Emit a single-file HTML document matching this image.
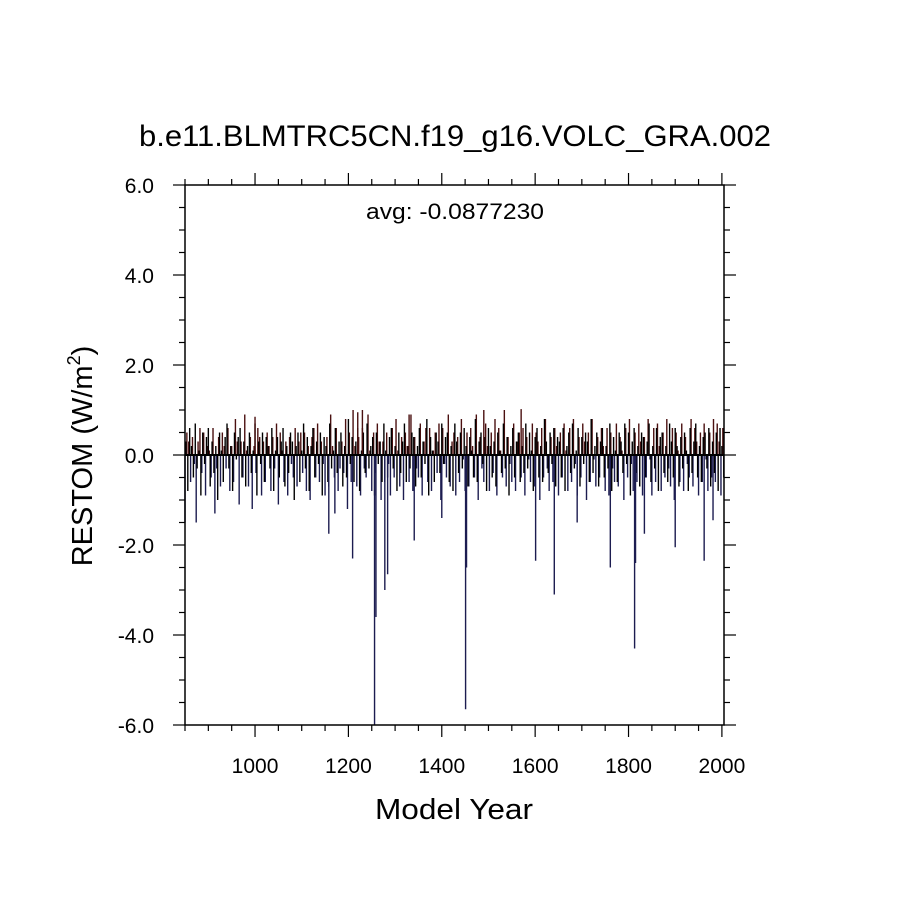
<!DOCTYPE html>
<html><head><meta charset="utf-8"><style>
body{margin:0;background:#fff;}
svg text{font-family:"Liberation Sans",Arial,sans-serif;}
</style></head><body>
<svg id="chart" width="910" height="910" viewBox="0 0 910 910">
<rect width="910" height="910" fill="#fff"/>
<text x="455" y="146" font-size="30" text-anchor="middle" textLength="632" lengthAdjust="spacingAndGlyphs">b.e11.BLMTRC5CN.f19_g16.VOLC_GRA.002</text>
<text x="455" y="219" font-size="22" text-anchor="middle" textLength="178" lengthAdjust="spacingAndGlyphs">avg: -0.0877230</text>
<g id="bars"></g>
<g id="axes"></g>
<text x="454" y="819" font-size="29" text-anchor="middle" textLength="158" lengthAdjust="spacingAndGlyphs">Model Year</text>
<text transform="translate(92,456) rotate(-90)" font-size="29" text-anchor="middle">RESTOM (W/m<tspan font-size="18" dy="-12">2</tspan><tspan dy="12">)</tspan></text>
</svg>
<script>
const startYear = 850;
const valuesA = [
-1.5,0.5,0.3,-0.6,0.4,-0.2,-1.5,0.3,0.6,-0.4,0.5,-0.9,0.2,0.1,-0.5,0.6,-1.3,-0.3,0.4,-0.7,
0.5,0.2,-0.3,0.6,-0.8,0.2,-0.6,0.8,0.3,-1.1,0.3,-0.5,0.9,0.1,-0.7,0.4,-1.2,0.2,-0.4,0.6,
0.4,-0.9,0.3,-0.6,0.5,0.2,-0.8,0.4,-0.3,0.7,-1.1,0.5,0.1,-0.6,0.3,-0.9,0.4,-0.2,-0.5,0.6,
-0.7,0.3,0.5,-0.4,0.5,-0.8,0.2,-1.0,0.4,0.6,-0.5,0.7,-0.6,0.3,-0.2,-0.9,0.4,-0.7,0.9,0.2,
-0.5,0.6,-0.8,-0.3,0.3,-0.4,0.8,-1.2,0.5,-0.6,1.0,0.2,-0.7,0.4,-0.9,0.6,-0.3,-0.5,0.9,0.1,
-0.8,0.5,-0.4,0.7,0.3,-1.0,0.3,-0.6,0.5,-0.2,-0.9,0.6,-0.5,0.8,0.1,-0.7,0.4,-1.0,0.5,0.2,
-0.6,0.9,-0.8,0.4,-0.3,-0.5,0.7,-0.9,0.3,0.6,-0.6,0.6,-0.8,0.1,0.5,-0.4,0.7,-1.0,0.6,-0.2,
-0.5,0.9,-0.7,0.3,0.5,-0.9,0.4,-0.6,0.8,-0.1,-0.8,0.5,-0.7,0.6,0.2,-0.5,0.9,-1.0,0.4,-0.3,
-0.6,0.7,0.2,-0.8,0.5,-0.4,0.8,-0.9,0.6,0.1,-0.5,1.0,-0.7,0.4,-0.2,-0.6,0.7,-0.8,0.3,0.5,
-0.5,0.6,-0.9,0.4,-0.1,-0.6,0.7,-0.7,0.5,0.3,-1.0,0.6,-0.5,0.8,-0.3,-0.8,0.4,-0.6,0.6,0.2,
-0.9,0.5,-0.5,0.7,0.1,-0.8,0.6,-0.6,0.8,-0.2,-0.9,0.4,-0.5,0.7,0.3,-1.0,0.5,-0.6,0.8,-0.1,
-0.7,0.4,-0.5,0.6,0.2,-0.8,0.6,-0.9,0.5,-0.3,-0.6,0.7,-0.7,0.4,0.1,-1.0,0.6,-0.5,0.8,-0.2,
-0.8,0.5,-0.6,0.7,0.3,-0.9,0.4,-0.5,0.8,-0.1,-0.9,0.6,-0.6,0.7,0.2,-0.8,0.5,-0.5,0.8,-0.3,
-0.7,0.6,-1.0,0.5,0.1,-0.6,0.7,-0.8,0.4,-0.2,-0.5,0.8,-0.7,0.6,0.3,-0.9,0.5,-0.6,0.7,-0.1,
-0.8,0.5,-0.5,0.8,-0.6,0.7,0.3,-0.9,0.6,-0.4,0.8
];
const valuesB = [
0.3,-0.8,0.6,0.2,-0.5,0.7,-0.3,0.1,-0.9,0.5,-0.2,0.4,0.6,-0.7,0.3,-0.4,0.2,-1.0,0.5,0.1,
-0.6,0.4,0.7,-0.3,0.2,-0.8,0.5,-0.1,0.4,0.6,-0.5,0.3,-0.7,0.2,0.5,-0.4,0.1,0.7,-0.9,0.3,
-0.2,0.5,-0.6,0.4,0.2,-0.3,0.6,-0.8,0.1,0.4,-0.5,0.3,0.6,-0.7,0.2,-0.4,0.5,0.3,-1.0,0.2,
0.5,-0.6,0.1,0.7,-0.3,0.4,-0.8,0.2,0.6,-0.5,0.3,-0.2,0.5,-0.9,0.4,0.2,-0.6,0.7,-0.3,0.1,
0.6,-0.4,0.3,0.5,-0.7,0.2,-0.5,0.8,-0.2,0.4,-0.6,0.3,0.6,-0.8,0.1,0.5,-0.4,0.7,-0.3,0.2,
0.4,-0.9,0.5,-0.2,0.3,-0.6,0.7,0.1,-0.5,0.4,0.6,-0.3,0.2,-0.8,0.5,-0.4,0.3,0.7,-0.6,0.2,
-0.3,0.5,0.4,-0.7,0.2,0.6,-0.5,0.3,-0.2,0.8,-0.9,0.4,0.1,-0.6,0.5,0.3,-0.4,0.7,-0.2,0.4,
0.5,-0.6,0.2,-0.8,0.7,0.3,-0.4,0.5,-0.3,0.6,0.2,-0.7,0.4,0.1,-0.5,0.8,-0.6,0.3,0.5,-0.2,
0.4,-0.8,0.6,0.2,-0.5,0.3,-0.7,0.5,0.1,-0.4,0.7,-0.3,0.4,-0.9,0.2,0.6,-0.5,0.3,0.5,-0.6,
0.2,-0.4,0.7,-0.3,0.5,0.1,-0.8,0.4,0.6,-0.5,0.2,-0.6,0.8,0.3,-0.4,0.5,-0.2,0.6,-0.7,0.4,
0.3,-0.5,0.6,-0.8,0.2,0.5,-0.4,0.7,-0.3,0.1,0.6,-0.7,0.4,-0.2,0.5,0.3,-0.6,0.8,-0.4,0.2,
0.5,-0.7,0.3,0.6,-0.5,0.2,-0.3,0.7,-0.8,0.4,0.1,-0.6,0.5,0.3,-0.4,0.7,-0.2,0.5,-0.9,0.3,
0.6,-0.4,0.2,-0.7,0.5,0.4,-0.5,0.3,0.7,-0.6,0.2,-0.3,0.6,-0.8,0.4,0.5,-0.4,0.2,-0.6,0.7,
0.3,-0.5,0.6,0.2,-0.7,0.4,-0.3,0.5,0.1,-0.8,0.6,-0.4,0.3,0.7,-0.5,0.2,-0.6,0.4,0.5,-0.3,
0.6,-0.7,0.3,-0.4,0.5,-0.8,0.6,0.2,-0.5,0.4
];
const eventYears = [1158,1171,1209,1256,1259,1278,1284,1341,1400,1451,1453,1601,1641,1690,1761,1813,1815,1834,1900,1962,1981,1220,1230,1570,1490,1330,1000];
const eventValues = [-1.75,-1.3,-2.3,-6.0,-3.6,-3.0,-2.65,-1.9,-1.4,-5.65,-2.5,-2.35,-3.1,-1.5,-2.5,-4.3,-2.4,-1.75,-2.05,-2.35,-1.45,0.95,1.0,1.02,1.0,0.9,0.85];
const yTicks = [-6,-4,-2,0,2,4,6];
const yTickLabels = ["-6.0","-4.0","-2.0","0.0","2.0","4.0","6.0"];
const xTicks = [1000,1200,1400,1600,1800,2000];
const xTickLabels = ["1000","1200","1400","1600","1800","2000"];

const L=185,R=724,T=185,B=725,X0=850,X1=2004.5;
const xs=y=>L+(y-X0)*(R-L)/(X1-X0);
const ys=v=>T+(6-v)*(B-T)/12;
const NS="http://www.w3.org/2000/svg";
const bars=document.getElementById('bars'), axes=document.getElementById('axes');
function mk(tag,a,p){const e=document.createElementNS(NS,tag);for(const k in a)e.setAttribute(k,a[k]);p.appendChild(e);return e;}
function bar(yr,v,col){
  const b=mk('line',{x1:xs(yr),x2:xs(yr),y1:ys(0),y2:ys(Math.max(-6,Math.min(6,v))),stroke:col||(v>=0?'#4a1010':'#1c1c50'),'stroke-width':1.4},bars);
  
  
}
valuesA.forEach((v,i)=>{const yr=startYear+i*4; if(yr<=2004) bar(yr,v);});
valuesB.forEach((v,i)=>{const yr=startYear+2+i*4; if(yr<=2004) bar(yr,v,'#000');});
eventYears.forEach((yr,i)=>bar(yr,eventValues[i]));
const zl=mk('line',{x1:L,x2:R,y1:ys(0),y2:ys(0),stroke:'#000','stroke-width':2},axes);


const fr=mk('rect',{x:L,y:T,width:R-L,height:B-T,fill:'none',stroke:'#000','stroke-width':1.5},axes);


for(let v=-6;v<=6.001;v+=0.5){
  const maj=Math.abs(v/2-Math.round(v/2))<1e-6, len=maj?12:6;
  mk('line',{x1:L,x2:L-len,y1:ys(v),y2:ys(v),stroke:'#000','stroke-width':1.2},axes);
  mk('line',{x1:R,x2:R+len,y1:ys(v),y2:ys(v),stroke:'#000','stroke-width':1.2},axes);
}
yTicks.forEach((v,i)=>{const t=mk('text',{x:L-31,y:ys(v)+8,'font-size':21,'text-anchor':'end'},axes);t.textContent=yTickLabels[i];

});
for(let yr=850;yr<=2000;yr+=50){
  const maj=yr%200===0, len=maj?12:6;
  mk('line',{x1:xs(yr),x2:xs(yr),y1:B,y2:B+len,stroke:'#000','stroke-width':1.2},axes);
  mk('line',{x1:xs(yr),x2:xs(yr),y1:T,y2:T-len,stroke:'#000','stroke-width':1.2},axes);
}
xTicks.forEach((yr,i)=>{const t=mk('text',{x:xs(yr),y:B+48,'font-size':21,'text-anchor':'middle'},axes);t.textContent=xTickLabels[i];

});
</script>
</body></html>
